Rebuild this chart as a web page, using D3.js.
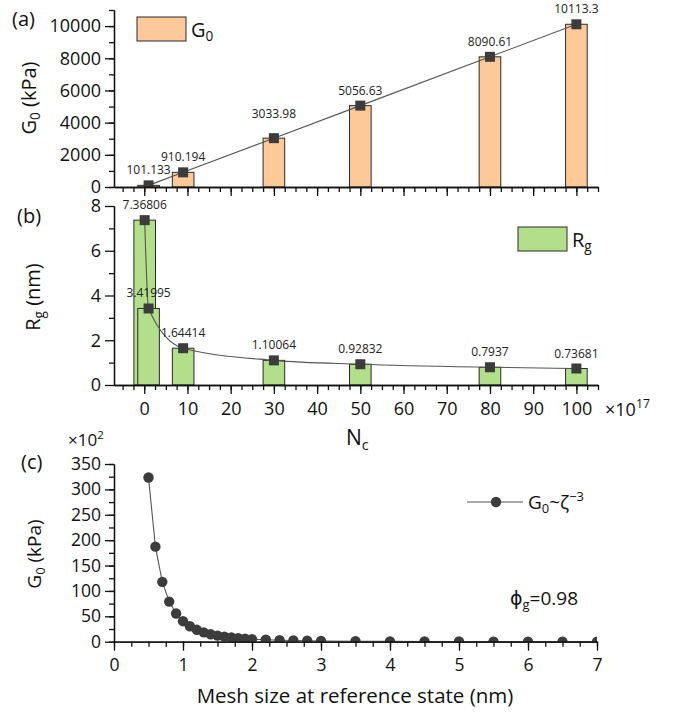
<!DOCTYPE html>
<html>
<head>
<meta charset="utf-8">
<script src="https://cdn.jsdelivr.net/npm/d3@7"></script>
<style>
  body { margin: 0; background: #fff; }
  svg { display: block; font-family: "Open Sans", "DejaVu Sans", sans-serif; }
  .axis path, .axis line { stroke: #111; stroke-width: 1.3; }
  .axis text { fill: #111; font-family: "Open Sans", sans-serif; }
</style>
</head>
<body>
<svg id="chart" width="677" height="714"></svg>
<script>
// ---- data ----
// (a) shear modulus G0 (kPa) against crosslink number Nc (×10^17)
const ncG0 = [1, 9, 30, 50, 80, 100];
const g0Values = [101.133, 910.194, 3033.98, 5056.63, 8090.61, 10113.3];
// (b) radius of gyration Rg (nm) against Nc (×10^17)
const ncRg = [0.1, 1, 9, 30, 50, 80, 100];
const rgValues = [7.36806, 3.41995, 1.64414, 1.10064, 0.92832, 0.7937, 0.73681];
// (c) G0 (×10^2 kPa) against mesh size at reference state (nm)
const meshSize = [0.5, 0.6, 0.7, 0.8, 0.9, 1.0, 1.1, 1.2, 1.3, 1.4, 1.5, 1.6, 1.7, 1.8, 1.9, 2.0,
                  2.2, 2.4, 2.6, 2.8, 3.0, 3.5, 4.0, 4.5, 5.0, 5.5, 6.0, 6.5, 7.0];
const g0Mesh = [323.5, 187.2, 117.9, 79.0, 55.5, 40.4, 30.4, 23.4, 18.4, 14.7, 12.0, 9.9, 8.2, 6.9, 5.9, 5.1,
                3.8, 2.9, 2.3, 1.8, 1.5, 0.94, 0.63, 0.44, 0.32, 0.24, 0.19, 0.15, 0.12];

// tick values
const ncMajorTicks = [0, 10, 20, 30, 40, 50, 60, 70, 80, 90, 100];
const g0MajorTicks = [0, 2000, 4000, 6000, 8000, 10000];
const rgMajorTicks = [0, 2, 4, 6, 8];
const meshMajorTicks = [0, 1, 2, 3, 4, 5, 6, 7];
const g0MeshMajorTicks = [0, 50, 100, 150, 200, 250, 300, 350];

const svg = d3.select("#chart");
const orange = "#fdc998", green = "#b3df8a", markerFill = "#3c3c3c", lineCol = "#555";

const range = (a, b, s) => d3.range(Math.round((b - a) / s) + 1).map(i => +(a + i * s).toFixed(4));

// shared x scale for panels (a) and (b)
const xN = d3.scaleLinear().domain([-7, 105]).range([114, 598]);
const yA = d3.scaleLinear().domain([0, 11000]).range([187, 10]);
const yB = d3.scaleLinear().domain([0, 8]).range([385, 206]);
const xC = d3.scaleLinear().domain([0, 7]).range([114, 597]);
const yC = d3.scaleLinear().domain([0, 350]).range([641.7, 464]);

function clip(id, x0, x1, y0, y1) {
  svg.append("clipPath").attr("id", id).append("rect")
    .attr("x", x0).attr("y", y0).attr("width", x1 - x0).attr("height", y1 - y0);
}
clip("clipA", 114, 598, 0, 187);
clip("clipB", 114, 598, 200, 385);
clip("clipC", 114, 597, 455, 641.7);

function xAxis(scale, y, major, minor, labels, fs) {
  const g = svg.append("g").attr("class", "axis").attr("transform", `translate(0,${y})`);
  g.append("g").call(d3.axisBottom(scale).tickValues(minor).tickSize(5).tickSizeOuter(0).tickFormat(""));
  const m = g.append("g").call(d3.axisBottom(scale).tickValues(major).tickSize(9).tickSizeOuter(0)
    .tickFormat(labels ? d3.format("") : ""));
  m.selectAll("text").attr("font-size", fs).attr("dy", "1.05em").attr("y", 11);
  return g;
}
function yAxis(scale, x, major, minor, fs) {
  const g = svg.append("g").attr("class", "axis").attr("transform", `translate(${x},0)`);
  g.append("g").call(d3.axisLeft(scale).tickValues(minor).tickSize(5).tickSizeOuter(0).tickFormat(""));
  const m = g.append("g").call(d3.axisLeft(scale).tickValues(major).tickSize(9).tickSizeOuter(0).tickFormat(d3.format("")));
  m.selectAll("text").attr("font-size", fs).attr("x", -13);
  return g;
}

function subText(x, y, parts, fs, opts = {}) {
  const t = svg.append("text").attr("x", x).attr("y", y).attr("font-size", fs).attr("fill", "#111");
  if (opts.anchor) t.attr("text-anchor", opts.anchor);
  if (opts.rotate) t.attr("transform", `rotate(-90,${x},${y})`);
  parts.forEach(p => {
    const s = t.append("tspan").text(p.t);
    if (p.sub) s.attr("font-size", fs * 0.68).attr("dy", fs * 0.22);
    if (p.sup) s.attr("font-size", fs * 0.68).attr("dy", -fs * 0.42);
    if (p.back) s.attr("dy", p.back);
  });
  return t;
}

// ---------- panel (a) ----------
const barW = xN(5) - xN(0);
svg.append("g").selectAll("rect").data(ncG0).join("rect")
  .attr("x", (d) => xN(d) - barW / 2).attr("width", barW)
  .attr("y", (d, i) => yA(g0Values[i])).attr("height", (d, i) => yA(0) - yA(g0Values[i]))
  .attr("fill", orange).attr("stroke", "#2b2b2b").attr("stroke-width", 1);

const gA = svg.append("g").attr("clip-path", "url(#clipA)");
gA.append("path").datum(ncG0)
  .attr("d", d3.line().x(d => xN(d)).y((d, i) => yA(g0Values[i])))
  .attr("fill", "none").attr("stroke", lineCol).attr("stroke-width", 1.1);
gA.selectAll("rect.m").data(ncG0).join("rect").attr("class", "m")
  .attr("x", d => xN(d) - 5).attr("y", (d, i) => yA(g0Values[i]) - 5)
  .attr("width", 10).attr("height", 10).attr("fill", markerFill);

const liftA = { 2: 20 };
svg.append("g").selectAll("text").data(ncG0).join("text")
  .attr("x", d => xN(d)).attr("y", (d, i) => yA(g0Values[i]) - (liftA[i] || 11))
  .attr("text-anchor", "middle").attr("font-size", 12).attr("fill", "#222")
  .text((d, i) => String(g0Values[i]));

xAxis(xN, 187, ncMajorTicks, range(-5, 105, 2.5), false, 18);
yAxis(yA, 114, g0MajorTicks, range(0, 11000, 1000), 18);

svg.append("rect").attr("x", 137).attr("y", 17).attr("width", 49).attr("height", 24)
  .attr("fill", orange).attr("stroke", "#2b2b2b").attr("stroke-width", 1);
subText(191, 37, [{ t: "G" }, { t: "0", sub: true }], 20);

subText(36, 98, [{ t: "G" }, { t: "0", sub: true }, { t: " (kPa)", back: -20 * 0.22 }], 20, { anchor: "middle", rotate: true });
svg.append("text").attr("x", 12).attr("y", 26).attr("font-size", 20).attr("fill", "#111").text("(a)");

// ---------- panel (b) ----------
svg.append("g").selectAll("rect").data(ncRg).join("rect")
  .attr("x", d => xN(d) - barW / 2).attr("width", barW)
  .attr("y", (d, i) => yB(rgValues[i])).attr("height", (d, i) => yB(0) - yB(rgValues[i]))
  .attr("fill", green).attr("stroke", "#2b2b2b").attr("stroke-width", 1);

const gB = svg.append("g").attr("clip-path", "url(#clipB)");
gB.append("path").datum(ncRg)
  .attr("d", d3.line().curve(d3.curveMonotoneX).x(d => xN(d)).y((d, i) => yB(rgValues[i])))
  .attr("fill", "none").attr("stroke", lineCol).attr("stroke-width", 1.1);
gB.selectAll("rect.m").data(ncRg).join("rect").attr("class", "m")
  .attr("x", d => xN(d) - 5).attr("y", (d, i) => yB(rgValues[i]) - 5)
  .attr("width", 10).attr("height", 10).attr("fill", markerFill);

svg.append("g").selectAll("text").data(ncRg).join("text")
  .attr("x", d => xN(d)).attr("y", (d, i) => yB(rgValues[i]) - 11)
  .attr("text-anchor", "middle").attr("font-size", 12).attr("fill", "#222")
  .text((d, i) => String(rgValues[i]));

xAxis(xN, 385, ncMajorTicks, range(-5, 105, 2.5), true, 18);
yAxis(yB, 114, rgMajorTicks, [1, 3, 5, 7], 18);

subText(605, 416, [{ t: "×10" }, { t: "17", sup: true }], 18);
subText(346, 445, [{ t: "N" }, { t: "c", sub: true }], 21);

svg.append("rect").attr("x", 518).attr("y", 227).attr("width", 49).attr("height", 24)
  .attr("fill", green).attr("stroke", "#2b2b2b").attr("stroke-width", 1);
subText(572, 247, [{ t: "R" }, { t: "g", sub: true }], 20);

subText(40, 297, [{ t: "R" }, { t: "g", sub: true }, { t: " (nm)", back: -20 * 0.22 }], 20, { anchor: "middle", rotate: true });
svg.append("text").attr("x", 17).attr("y", 223).attr("font-size", 20).attr("fill", "#111").text("(b)");

// ---------- panel (c) ----------
const gC = svg.append("g").attr("clip-path", "url(#clipC)");
gC.append("path").datum(meshSize)
  .attr("d", d3.line().x(d => xC(d)).y((d, i) => yC(g0Mesh[i])))
  .attr("fill", "none").attr("stroke", lineCol).attr("stroke-width", 1.1);
gC.selectAll("circle").data(meshSize).join("circle")
  .attr("cx", d => xC(d)).attr("cy", (d, i) => yC(g0Mesh[i])).attr("r", 5.2)
  .attr("fill", markerFill);

xAxis(xC, 641.7, meshMajorTicks, range(0, 7, 0.25), true, 17.5);
yAxis(yC, 114, g0MeshMajorTicks, range(0, 350, 25), 17.5);

subText(68, 446, [{ t: "×10" }, { t: "2", sup: true }], 17);
svg.append("text").attr("x", 355).attr("y", 703).attr("text-anchor", "middle")
  .attr("font-size", 20.5).attr("fill", "#111").text("Mesh size at reference state (nm)");
subText(41, 554, [{ t: "G" }, { t: "0", sub: true }, { t: " (kPa)", back: -19 * 0.22 }], 19, { anchor: "middle", rotate: true });
svg.append("text").attr("x", 21).attr("y", 469).attr("font-size", 20).attr("fill", "#111").text("(c)");

// legend
svg.append("line").attr("x1", 467).attr("x2", 523).attr("y1", 502).attr("y2", 502)
  .attr("stroke", lineCol).attr("stroke-width", 1.1);
svg.append("circle").attr("cx", 496).attr("cy", 502).attr("r", 5.2).attr("fill", markerFill);
subText(528, 509, [{ t: "G" }, { t: "0", sub: true }, { t: "~ζ", back: -19 * 0.22 }, { t: "−3", sup: true }], 19);

subText(510, 605, [{ t: "ϕ" }, { t: "g", sub: true }, { t: "=0.98", back: -19 * 0.22 }], 19);
</script>
</body>
</html>
